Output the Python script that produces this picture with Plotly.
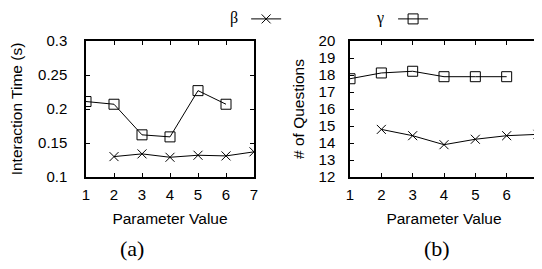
import plotly.graph_objects as go

param_values = [1, 2, 3, 4, 5, 6, 7]

# (a) Interaction Time (s)
time_beta_x = [2, 3, 4, 5, 6, 7]
time_beta = [0.130, 0.134, 0.129, 0.132, 0.131, 0.137]
time_gamma_x = [1, 2, 3, 4, 5, 6]
time_gamma = [0.211, 0.207, 0.162, 0.159, 0.227, 0.207]

# (b) # of Questions
q_beta_x = [2, 3, 4, 5, 6, 7]
q_beta = [14.8, 14.43, 13.9, 14.22, 14.43, 14.51]
q_gamma_x = [1, 2, 3, 4, 5, 6]
q_gamma = [17.78, 18.12, 18.22, 17.9, 17.9, 17.9]

time_ticks = [0.1, 0.15, 0.2, 0.25, 0.3]
time_tick_labels = ["0.1", "0.15", "0.2", "0.25", "0.3"]
q_ticks = [12, 13, 14, 15, 16, 17, 18, 19, 20]

# figure slightly wider than the window so the edge tick label "7" is not dropped
W, H = 560, 269
OFF = 8  # page body margin offset in the browser
sans = "Liberation Sans, Arial, sans-serif"
serif = "Liberation Serif, Times New Roman, serif"

beta_style = dict(mode="lines+markers", line=dict(color="black", width=1),
                  marker=dict(symbol="x-thin-open", size=9, color="black",
                              line=dict(color="black", width=1)))
gamma_style = dict(mode="lines+markers", line=dict(color="black", width=1),
                   marker=dict(symbol="square-open", size=10, color="black",
                               line=dict(color="black", width=1)))

fig = go.Figure()
fig.add_trace(go.Scatter(x=time_beta_x, y=time_beta, xaxis="x", yaxis="y",
                         name="", legend="legend", showlegend=True, **beta_style))
fig.add_trace(go.Scatter(x=time_gamma_x, y=time_gamma, xaxis="x", yaxis="y",
                         name="", legend="legend2", showlegend=True, **gamma_style))
fig.add_trace(go.Scatter(x=q_beta_x, y=q_beta, xaxis="x2", yaxis="y2",
                         showlegend=False, **beta_style))
fig.add_trace(go.Scatter(x=q_gamma_x, y=q_gamma, xaxis="x2", yaxis="y2",
                         showlegend=False, **gamma_style))

def px_x(p):
    return (p - OFF) / W

def px_y(p):
    return 1 - (p - OFF) / H

axis_common = dict(showline=True, linecolor="black", linewidth=1.5, mirror="ticks",
                   ticks="inside", ticklen=4, tickcolor="black", tickwidth=1,
                   showgrid=False, zeroline=False, automargin=False,
                   ticklabeloverflow="allow",
                   tickfont=dict(family=sans, size=15, color="black"))
title_font = dict(family=sans, size=15.5, color="black")
legend_font = dict(family=serif, size=16, color="black")

fig.update_layout(
    template="none",
    width=W, height=H,
    margin=dict(l=0, r=0, t=0, b=0, autoexpand=False),
    paper_bgcolor="white", plot_bgcolor="white",
    showlegend=True,
    xaxis=dict(domain=[px_x(86), px_x(254)], range=[1, 7], tickvals=param_values,
               anchor="y", ticklabelstandoff=3,
               title=dict(text="Parameter Value", standoff=11, font=title_font),
               **axis_common),
    yaxis=dict(domain=[px_y(177), px_y(41)], range=[0.1, 0.3], tickvals=time_ticks,
               ticktext=time_tick_labels, anchor="x", ticklabelstandoff=14,
               title=dict(text="Interaction Time (s)", standoff=12, font=title_font),
               **axis_common),
    xaxis2=dict(domain=[px_x(350), px_x(538)], range=[1, 7], tickvals=param_values,
                anchor="y2", ticklabelstandoff=3,
                title=dict(text="Parameter Value", standoff=11, font=title_font),
                **axis_common),
    yaxis2=dict(domain=[px_y(177), px_y(41)], range=[12, 20], tickvals=q_ticks,
                anchor="x2", ticklabelstandoff=10,
                title=dict(text="# of Questions", standoff=10, font=title_font),
                **axis_common),
    legend=dict(x=px_x(228), y=px_y(2), xanchor="left", yanchor="top",
                orientation="h", bgcolor="rgba(0,0,0,0)",
                title=dict(text="β", side="left", font=legend_font),
                font=legend_font, itemwidth=30, tracegroupgap=0),
    legend2=dict(x=px_x(375), y=px_y(2), xanchor="left", yanchor="top",
                 orientation="h", bgcolor="rgba(0,0,0,0)",
                 title=dict(text="γ", side="left", font=legend_font),
                 font=legend_font, itemwidth=30, tracegroupgap=0),
    annotations=[
        dict(text="(a)", x=px_x(132), y=px_y(248), xref="paper", yref="paper",
             xanchor="center", yanchor="middle", showarrow=False,
             font=dict(family=serif, size=22, color="black")),
        dict(text="(b)", x=px_x(437), y=px_y(248), xref="paper", yref="paper",
             xanchor="center", yanchor="middle", showarrow=False,
             font=dict(family=serif, size=22, color="black")),
    ],
)

fig.write_html("out.html")
